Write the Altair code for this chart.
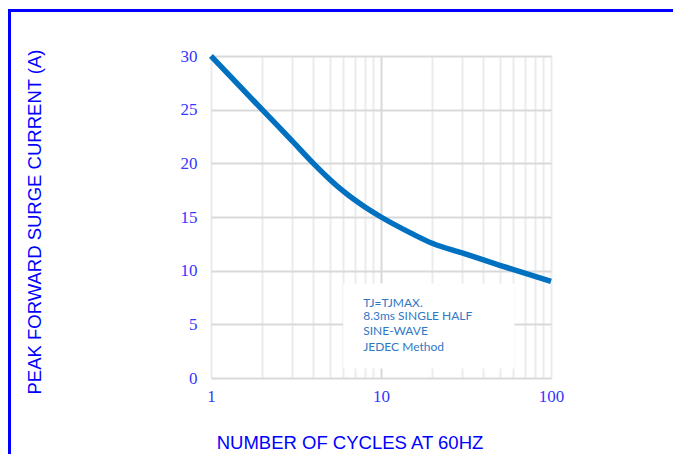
import altair as alt
import pandas as pd

# ---- data ----
cycles = [1, 2, 3, 4, 5, 6, 8, 10, 15, 20, 30, 50, 100]
current = [30, 25, 22.1, 20.0, 18.5, 17.4, 15.95, 15.0, 13.5, 12.55, 11.65, 10.5, 9.0]

x_grid_values = [1, 2, 3, 4, 5, 6, 7, 8, 9, 10, 20, 30, 40, 50, 60, 70, 80, 90, 100]
x_major_labels = [1, 10, 100]
y_tick_values = [0, 5, 10, 15, 20, 25, 30]

note_lines = ["TJ=TJMAX.", "8.3ms SINGLE HALF", "SINE-WAVE", "JEDEC Method"]

x_title = "NUMBER OF CYCLES AT 60HZ"
y_title = "PEAK FORWARD SURGE CURRENT (A)"

# ---- annotation placement (data coordinates) ----
note_x = 7.86
note_y = [6.63, 5.37, 4.05, 2.54]
box_x = [6.0, 61.0]
box_y = [0.88, 8.8]

curve_df = pd.DataFrame({"n": cycles, "i": current})
note_df = pd.DataFrame({"t": note_lines, "x": [note_x] * len(note_lines), "y": note_y})
box_df = pd.DataFrame({"x": [box_x[0]], "x2": [box_x[1]], "y": [box_y[0]], "y2": [box_y[1]]})

W, H = 340, 322
PL, PT, PR, PB = 203, 48, 122, 76

xscale = alt.Scale(type="log", domain=[1, 100], nice=False)
yscale = alt.Scale(domain=[0, 30], nice=False, zero=True)

major_expr = "indexof([" + ",".join(str(v) for v in x_major_labels) + "], datum.value) >= 0 ? format(datum.value, 'd') : ''"

x_axis = alt.Axis(
    values=x_grid_values,
    labelExpr=major_expr,
    ticks=False,
    domain=False,
    grid=True,
    gridColor=alt.condition("datum.value == 10", alt.value("#d9d9d9"), alt.value("#ececec")),
    gridWidth=2,
    labelFont="Liberation Serif",
    labelFontSize=17,
    labelColor="#3636ff",
    labelPadding=10,
    labelFlush=False,
    labelOverlap=False,
    title=x_title,
    titleFont="Liberation Sans",
    titleFontSize=18.5,
    titleFontWeight="normal",
    titleColor="#0000ff",
    titleX=138.5,
    titleY=70,
    titleAlign="center",
    titleBaseline="alphabetic",
)

y_axis = alt.Axis(
    values=y_tick_values,
    ticks=False,
    domain=False,
    grid=True,
    gridColor="#d9d9d9",
    gridWidth=2,
    labelFont="Liberation Serif",
    labelFontSize=17,
    labelColor="#3636ff",
    labelPadding=14,
    labelBaseline="middle",
    title=y_title,
    titleFont="Liberation Sans",
    titleFontSize=18.5,
    titleFontWeight="normal",
    titleColor="#0000ff",
    titleAngle=270,
    titleX=-176.5,
    titleY=165.5,
    titleAlign="center",
    titleBaseline="middle",
)

box = alt.Chart(box_df).mark_rect(fill="white").encode(
    x=alt.X("x:Q", scale=xscale, axis=x_axis),
    x2="x2:Q",
    y=alt.Y("y:Q", scale=yscale, axis=y_axis),
    y2="y2:Q",
)

curve = alt.Chart(curve_df).mark_line(
    color="#0070c0", strokeWidth=5.5, interpolate="monotone", strokeCap="butt"
).encode(
    x=alt.X("n:Q", scale=xscale),
    y=alt.Y("i:Q", scale=yscale),
)

notes = alt.Chart(note_df).mark_text(
    align="left", baseline="alphabetic", font="Lato", fontSize=12, color="#2f78c4"
).encode(
    x=alt.X("x:Q", scale=xscale),
    y=alt.Y("y:Q", scale=yscale),
    text="t:N",
)

# blue outer frame (decoration, pixel space)
frame_top = alt.Chart(curve_df).mark_rule(color="#0000ff", strokeWidth=3).encode(
    x=alt.value(-PL), x2=alt.value(W + PR), y=alt.value(-45.5)
)
frame_left = alt.Chart(curve_df).mark_rule(color="#0000ff", strokeWidth=3).encode(
    x=alt.value(-PL + 1.5), y=alt.value(-47), y2=alt.value(H + PB)
)

chart = alt.layer(box, curve, notes, frame_top, frame_left).properties(
    width=W,
    height=H,
    autosize=alt.AutoSizeParams(type="none"),
    padding={"left": PL, "top": PT, "right": PR, "bottom": PB},
).configure_view(
    stroke="#d9d9d9", strokeWidth=2
).configure(background="white")

chart.save("out.html", embed_options={"renderer": "svg", "actions": False})
